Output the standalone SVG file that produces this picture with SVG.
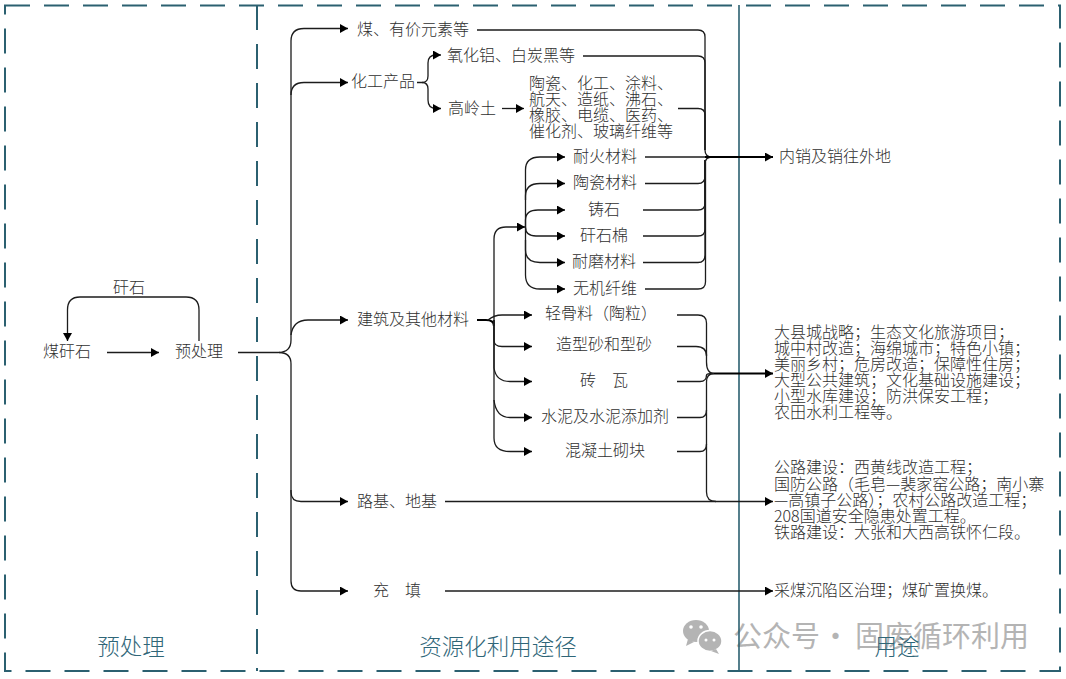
<svg xmlns="http://www.w3.org/2000/svg" width="1066" height="679" viewBox="0 0 1066 679">
<style>
text{font-family:"Noto Sans CJK SC",sans-serif;fill:#303030;font-size:16px;font-weight:300}
.c{text-anchor:middle}
.sec{fill:#2f6678;font-size:22.500px}
.frame{fill:none;stroke:#2b6070;stroke-width:2;stroke-dasharray:25 14}
.con{fill:none;stroke:#1c1c1c;stroke-width:1.3}
.thick{stroke-width:2.2;stroke:#000}
.arr{marker-end:url(#a)}
.wm{fill:#b4b4b4;font-size:29px;font-weight:400}
</style>
<defs><marker id="a" markerUnits="userSpaceOnUse" markerWidth="9" markerHeight="9" refX="8" refY="4.5" orient="auto"><path d="M0 0L8 4.5L0 9Z" fill="#000"/></marker></defs>
<g id="watermark"><ellipse cx="696" cy="631" rx="13" ry="11" fill="#b4b4b4"/><path d="M688 639l-2 7 8-4z" fill="#b4b4b4"/><ellipse cx="710" cy="641" rx="12" ry="10.500" fill="#b4b4b4" stroke="#fff" stroke-width="1.500"/><path d="M716 649l3 5-8-3z" fill="#b4b4b4"/><circle cx="691" cy="627" r="1.800" fill="#fff"/><circle cx="701" cy="627" r="1.800" fill="#fff"/><circle cx="706" cy="640" r="1.500" fill="#fff"/><circle cx="714" cy="640" r="1.500" fill="#fff"/><text class="wm" y="647"><tspan x="733">公众号</tspan><tspan x="821">·</tspan><tspan x="855">固废循环利用</tspan></text></g>
<g id="frames"><rect class="frame" x="5" y="5.500" width="1055" height="665.500"/><line class="frame" x1="257" y1="5" x2="257" y2="671"/><line x1="739" y1="5" x2="739" y2="671" stroke="#2b6070" stroke-width="1.600"/></g>
<g id="connectors">
<path class="con arr" d="M199 341V310Q199 297 186 297H80Q67.500 297 67.500 310V341"/>
<path class="con arr" d="M107 352.500H159"/>
<path class="con" d="M238 352.500H278Q291 352.500 291 340V41"/>
<path class="con arr" d="M291 95Q291 82.500 304 82.500H348"/>
<path class="con arr" d="M291 41Q291 28.500 304 28.500H348"/>
<path class="con arr" d="M291 335Q293 320 308 320H348"/>
<path class="con arr" d="M279 352.500Q291 352.500 291 364V492Q291 501.500 301 501.500H348"/>
<path class="con arr" d="M291 490V581Q291 591 301 591H348"/>
<path class="con" d="M417 82.500H422Q428 82.500 428 76V63Q428 55 436 55"/>
<path class="con arr" d="M436 55H441"/>
<path class="con arr" d="M422 82.500Q428 82.500 428 89V100Q428 108.500 436 108.500H441"/>
<path class="con arr" d="M502 108.500H524"/>
<path class="con" d="M477 30H698Q705 30 705 37V150Q705 157 712 157"/>
<path class="con" d="M583 56H698Q705 56 705 63V150"/>
<path class="con" d="M678 108.500H698Q705 108.500 705 115V150"/>
<path class="con" d="M645 157H705"/>
<path class="con" d="M645 183.500H698Q705 183.500 705 176V164Q705 157 712 157"/>
<path class="con" d="M643 210H698Q705 210 705 203V160"/>
<path class="con" d="M643 236H698Q705 236 705 229V160"/>
<path class="con" d="M643 262.500H698Q705 262.500 705 255V160"/>
<path class="con" d="M645 289H698Q705.500 289 705.500 282V160"/>
<path class="con thick arr" d="M705 157H773"/>
<path class="con arr" d="M525.500 227V170Q525.500 157 540 157H565"/>
<path class="con arr" d="M525.500 200V196Q525.500 183.500 540 183.500H565"/>
<path class="con arr" d="M525.500 227V220Q525.500 210 538 210H565"/>
<path class="con arr" d="M525.500 227Q525.500 236 536 236H565"/>
<path class="con arr" d="M525.500 227V250Q525.500 262.500 540 262.500H565"/>
<path class="con arr" d="M525.500 240V275Q525.500 289 540 289H565"/>
<path class="con thick" d="M477 320H486Q494 320 494 326"/>
<path class="con arr" d="M494 326V239Q494 227 506 227H525"/>
<path class="con arr" d="M488 320Q494 315 502 315H532"/>
<path class="con arr" d="M494 320V340Q494 346.500 502 346.500H532"/>
<path class="con arr" d="M494 320V368Q496 381.500 510 381.500H532"/>
<path class="con arr" d="M494 400Q496 417.500 510 417.500H532"/>
<path class="con arr" d="M494 320V438Q494 451.500 510 451.500H532"/>
<path class="con" d="M677 315H698Q706.500 315 706.500 323V362Q706.500 373.500 714 373.500"/>
<path class="con" d="M677 346.500H696Q706.500 346.500 706.500 356"/>
<path class="con" d="M677 381.500H700Q706.500 381.500 706.500 375Q706.500 373.500 714 373.500"/>
<path class="con" d="M677 417.500H700Q706.500 417.500 706.500 410"/>
<path class="con" d="M677 451.500H700Q706.500 451.500 706.500 444"/>
<path class="con thick arr" d="M714 373.500H773"/>
<path class="con" d="M714 373.500Q706.500 373.500 706.500 382V492Q706.500 501.500 716 501.500"/>
<path class="con arr" d="M445 501.500H773"/>
<path class="con arr" d="M445 591H773"/>
</g>
<g id="n-coal-gangue"><text x="43" y="357">煤矸石</text></g>
<g id="n-gangue-label"><text x="113" y="293">矸石</text></g>
<g id="n-pretreat"><text x="175" y="357">预处理</text></g>
<g id="n-coal"><text x="357" y="35">煤、有价元素等</text></g>
<g id="n-chem"><text x="351" y="87">化工产品</text></g>
<g id="n-alumina"><text x="447" y="61">氧化铝、白炭黑等</text></g>
<g id="n-kaolin"><text x="448" y="114">高岭土</text></g>
<g id="n-kaolin-use"><text x="529" y="89">陶瓷、化工、涂料、</text><text x="529" y="105">航天、造纸、沸石、</text><text x="529" y="121">橡胶、电缆、医药、</text><text x="529" y="137">催化剂、玻璃纤维等</text></g>
<g id="n-refractory"><text class="c" x="605" y="162">耐火材料</text></g>
<g id="n-ceramic"><text class="c" x="605" y="188">陶瓷材料</text></g>
<g id="n-cast"><text class="c" x="604" y="215">铸石</text></g>
<g id="n-wool"><text class="c" x="604" y="241">矸石棉</text></g>
<g id="n-wear"><text class="c" x="604" y="267">耐磨材料</text></g>
<g id="n-fiber"><text class="c" x="605" y="294">无机纤维</text></g>
<g id="n-building"><text x="357" y="325">建筑及其他材料</text></g>
<g id="n-aggregate"><text class="c" x="601" y="319">轻骨料（陶粒）</text></g>
<g id="n-sand"><text class="c" x="604" y="350">造型砂和型砂</text></g>
<g id="n-brick"><text class="c" x="604" y="386">砖　瓦</text></g>
<g id="n-cement"><text class="c" x="605" y="422">水泥及水泥添加剂</text></g>
<g id="n-block"><text class="c" x="605" y="456">混凝土砌块</text></g>
<g id="n-road"><text x="357" y="507">路基、地基</text></g>
<g id="n-fill"><text x="373" y="596">充　填</text></g>
<g id="n-sales"><text x="779" y="162">内销及销往外地</text></g>
<g id="n-use-building"><text x="774" y="337.500">大县城战略；生态文化旅游项目；</text><text x="774" y="353.500">城中村改造；海绵城市；特色小镇；</text><text x="774" y="370">美丽乡村；危房改造；保障性住房；</text><text x="774" y="386">大型公共建筑；文化基础设施建设；</text><text x="774" y="402">小型水库建设；防洪保安工程；</text><text x="774" y="418">农田水利工程等。</text></g>
<g id="n-use-road"><text x="774" y="473">公路建设：西黄线改造工程；</text><text x="774" y="490">国防公路（毛皂—裴家窑公路；南小寨</text><text x="774" y="506">—高镇子公路）；农村公路改造工程；</text><text x="774" y="522">208国道安全隐患处置工程。</text><text x="774" y="538">铁路建设：大张和大西高铁怀仁段。</text></g>
<g id="n-use-fill"><text x="774" y="596">采煤沉陷区治理；煤矿置换煤。</text></g>
<g id="sections"><text class="sec c" x="131" y="655">预处理</text><text class="sec c" x="498" y="655">资源化利用途径</text><text class="sec c" x="897" y="655">用途</text></g>
</svg>
